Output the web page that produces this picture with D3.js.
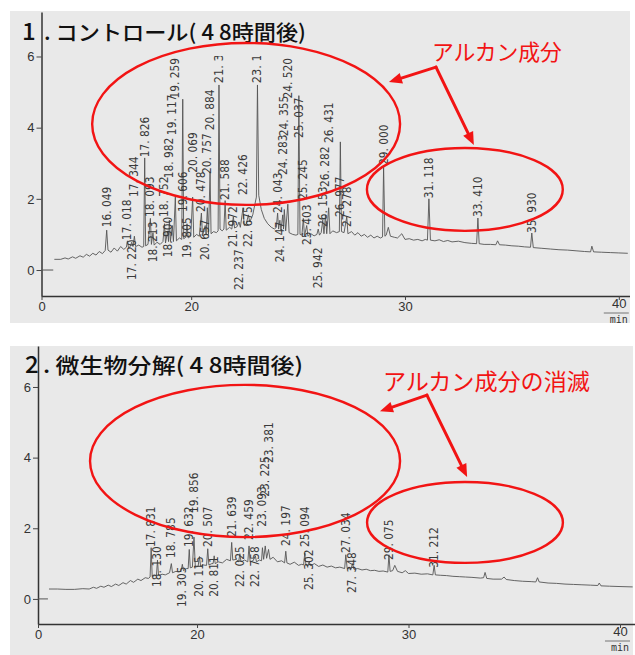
<!DOCTYPE html>
<html>
<head>
<meta charset="utf-8">
<script src="https://cdn.jsdelivr.net/npm/d3@7"></script>
<style>
  html, body { margin: 0; padding: 0; background: #fff; }
  svg { display: block; }
</style>
</head>
<body>
<svg id="chart" width="635" height="655"></svg>
<script>
// ---- shared axis values ----
const yTickValues = [0, 2, 4, 6];
const xTickValues = [20, 30, 40];
const originTickLabel = "0";
const unitLabel = "min";

// ---- 1. control run: detector trace [retention time (min), signal] ----
const topTrace = [
  [13.60,0.30],[13.90,0.30],[14.10,0.34],[14.25,0.31],[14.45,0.37],[14.60,0.33],[14.80,0.40],[14.95,0.36],
  [15.10,0.44],[15.25,0.39],[15.40,0.47],[15.55,0.42],[15.70,0.52],[15.85,0.46],[15.98,0.55],[16.049,1.12],
  [16.11,0.56],[16.25,0.50],[16.40,0.62],[16.55,0.53],[16.70,0.66],[16.85,0.58],[16.97,0.64],[17.018,0.82],
  [17.07,0.62],[17.15,0.66],[17.220,0.78],[17.28,0.66],[17.344,0.95],[17.40,0.66],[17.55,0.70],[17.70,0.64],
  [17.78,0.66],[17.826,3.15],[17.87,0.68],[17.98,0.72],[18.093,1.45],[18.14,0.72],[18.213,1.05],[18.27,0.70],
  [18.40,0.78],[18.55,0.72],[18.68,0.80],[18.752,1.30],[18.80,0.76],[18.900,1.10],[18.94,0.80],[18.982,1.40],
  [19.03,0.80],[19.117,1.25],[19.17,0.80],[19.259,2.05],[19.31,0.82],[19.45,0.90],[19.56,0.86],[19.606,4.80],
  [19.65,0.88],[19.75,0.92],[19.805,1.30],[19.86,0.90],[19.98,0.95],[20.069,2.05],[20.12,0.92],[20.25,1.00],
  [20.38,0.95],[20.478,1.60],[20.53,0.96],[20.657,1.25],[20.70,0.98],[20.757,1.75],[20.81,1.00],[20.884,2.75],
  [20.93,1.02],[21.05,1.08],[21.18,1.05],[21.26,1.10],[21.30,5.20],[21.35,1.15],[21.45,1.10],[21.53,1.15],
  [21.588,1.95],[21.64,1.12],[21.80,1.20],[21.90,1.15],[21.972,1.50],[22.03,1.18],[22.15,1.22],[22.237,1.35],
  [22.30,1.20],[22.426,1.75],[22.48,1.25],[22.58,1.30],[22.675,1.55],[22.74,1.35],[22.88,1.55],[22.98,1.85],
  [23.05,2.05],[23.10,5.20],[23.16,2.10],[23.28,1.70],[23.42,1.45],[23.58,1.30],[23.75,1.20],[23.90,1.15],
  [23.98,1.20],[24.043,1.60],[24.09,1.15],[24.147,1.40],[24.20,1.12],[24.283,1.55],[24.32,1.15],[24.355,1.70],
  [24.42,1.10],[24.520,1.85],[24.58,1.05],[24.75,1.00],[24.90,0.98],[24.99,1.00],[25.037,4.90],[25.09,1.00],
  [25.18,0.98],[25.245,1.45],[25.30,0.96],[25.403,1.25],[25.46,0.95],[25.60,1.02],[25.75,0.96],[25.88,1.00],
  [25.942,1.15],[26.00,0.98],[26.08,1.05],[26.153,1.40],[26.21,1.02],[26.282,1.55],[26.34,1.02],[26.431,1.75],
  [26.49,1.02],[26.62,1.10],[26.80,1.05],[26.93,1.08],[26.977,3.60],[27.03,1.08],[27.15,1.05],[27.278,1.50],
  [27.33,1.02],[27.50,1.08],[27.65,0.98],[27.80,1.05],[27.95,0.95],[28.10,1.00],[28.25,0.92],[28.40,0.98],
  [28.55,0.90],[28.70,0.95],[28.85,0.90],[28.95,0.93],[29.000,2.90],[29.06,0.95],[29.12,0.98],[29.22,1.20],
  [29.32,0.95],[29.50,0.92],[29.65,0.90],[29.85,1.02],[30.00,0.86],[30.20,0.88],[30.40,0.84],[30.60,0.86],
  [30.80,0.82],[30.95,0.86],[31.05,0.84],[31.118,2.00],[31.19,0.84],[31.40,0.82],[31.60,0.85],[31.80,0.80],
  [32.00,0.83],[32.20,0.79],[32.50,0.81],[32.80,0.77],[33.10,0.75],[33.35,0.74],[33.410,1.46],[33.47,0.74],
  [33.70,0.72],[34.00,0.72],[34.25,0.71],[34.33,0.82],[34.42,0.71],[34.70,0.70],[35.00,0.68],[35.30,0.67],
  [35.60,0.65],[35.87,0.64],[35.930,1.04],[36.00,0.63],[36.40,0.61],[36.80,0.59],[37.20,0.57],[37.60,0.56],
  [38.00,0.54],[38.40,0.52],[38.68,0.51],[38.74,0.67],[38.82,0.51],[39.20,0.50],[39.60,0.49],[40.00,0.48],
  [40.42,0.47]
];
const topZeroStub = [[13.0, 0], [13.55, 0]];

// printed retention-time labels: [text, retention time, signal level where the text begins]
const topLabels = [
  ["16. 049",16.049,1.20],["17. 018",17.018,0.84],["17. 220",17.220,-0.28],["17. 344",17.344,2.05],
  ["17. 826",17.826,3.17],["18. 093",18.093,1.49],["18. 213",18.213,0.22],["18. 752",18.752,1.49],
  ["18. 900",18.900,0.36],["18. 982",18.982,2.58],["19. 117",19.117,3.79],["19. 259",19.259,4.82],
  ["19. 606",19.606,1.63],["19. 805",19.805,0.34],["20. 069",20.069,2.73],["20. 478",20.478,1.63],
  ["20. 657",20.657,0.28],["20. 757",20.757,2.70],["20. 884",20.884,3.93],["21. 3",21.30,5.25],
  ["21. 588",21.588,1.97],["21. 972",21.972,0.65],["22. 237",22.237,-0.56],["22. 426",22.426,2.11],
  ["22. 675",22.675,0.65],["23. 1",23.10,5.25],["24. 043",24.043,1.60],["24. 147",24.147,0.22],
  ["24. 283",24.283,2.67],["24. 355",24.355,3.76],["24. 520",24.520,4.82],["25. 037",25.037,3.71],
  ["25. 245",25.245,1.97],["25. 403",25.403,0.70],["25. 942",25.942,-0.51],["26. 153",26.153,1.21],
  ["26. 282",26.282,2.33],["26. 431",26.431,3.57],["26. 977",26.977,1.49],["27. 278",27.278,1.21],
  ["29. 000",29.000,2.95],["31. 118",31.118,2.02],["33. 410",33.410,1.49],["35. 930",35.930,1.04]
];

// ---- 2. microbial degradation run ----
const bottomTrace = [
  [13.00,0.28],[13.40,0.28],[13.80,0.27],[14.20,0.27],[14.60,0.29],[14.90,0.28],[15.10,0.33],[15.25,0.30],
  [15.45,0.36],[15.60,0.33],[15.80,0.39],[15.95,0.35],[16.15,0.42],[16.30,0.38],[16.50,0.46],[16.65,0.42],
  [16.85,0.52],[17.00,0.47],[17.20,0.56],[17.35,0.52],[17.55,0.60],[17.70,0.58],[17.78,0.62],[17.831,1.45],
  [17.88,0.64],[18.00,0.66],[18.08,0.66],[18.130,1.10],[18.18,0.66],[18.35,0.70],[18.50,0.68],[18.70,0.74],
  [18.785,1.00],[18.84,0.74],[19.00,0.78],[19.15,0.76],[19.25,0.80],[19.305,0.98],[19.36,0.80],[19.50,0.86],
  [19.58,0.86],[19.632,1.40],[19.68,0.88],[19.78,0.90],[19.856,1.75],[19.92,0.90],[20.05,0.92],[20.115,1.20],
  [20.17,0.92],[20.30,0.96],[20.45,0.95],[20.507,1.42],[20.56,0.96],[20.70,1.00],[20.76,1.00],[20.811,1.22],
  [20.86,1.00],[21.00,1.05],[21.20,1.02],[21.40,1.12],[21.58,1.08],[21.639,1.60],[21.69,1.10],[21.85,1.12],
  [21.97,1.05],[22.025,1.28],[22.08,1.05],[22.25,1.10],[22.40,1.05],[22.459,1.50],[22.51,1.05],[22.65,1.08],
  [22.758,1.22],[22.81,1.05],[22.95,1.10],[23.05,1.08],[23.093,1.45],[23.15,1.12],[23.225,1.50],[23.29,1.15],
  [23.381,1.40],[23.45,1.12],[23.60,1.18],[23.80,1.05],[24.00,1.08],[24.14,1.02],[24.197,1.35],[24.25,1.02],
  [24.40,0.98],[24.60,1.04],[24.80,0.95],[24.95,0.98],[25.04,0.96],[25.094,1.30],[25.15,0.96],[25.25,0.95],
  [25.302,1.05],[25.36,0.94],[25.55,1.00],[25.75,0.92],[25.95,0.96],[26.15,0.90],[26.35,0.93],[26.55,0.88],
  [26.75,0.90],[26.98,0.86],[27.034,1.25],[27.10,0.86],[27.28,0.85],[27.348,1.00],[27.42,0.84],[27.60,0.86],
  [27.80,0.82],[28.00,0.84],[28.20,0.80],[28.40,0.81],[28.60,0.78],[28.80,0.79],[29.02,0.76],[29.075,1.25],
  [29.13,0.78],[29.25,0.80],[29.35,0.95],[29.48,0.78],[29.70,0.74],[29.85,0.80],[30.00,0.72],[30.30,0.73],
  [30.60,0.70],[30.90,0.71],[31.15,0.68],[31.212,0.95],[31.27,0.68],[31.50,0.67],[31.80,0.66],[32.10,0.64],
  [32.40,0.63],[32.70,0.62],[33.00,0.61],[33.40,0.59],[33.55,0.60],[33.62,0.75],[33.70,0.58],[34.00,0.56],
  [34.40,0.56],[34.52,0.62],[34.62,0.55],[35.00,0.52],[35.40,0.50],[35.80,0.49],[36.02,0.48],[36.10,0.60],
  [36.18,0.48],[36.60,0.45],[37.00,0.44],[37.40,0.42],[37.80,0.41],[38.20,0.40],[38.60,0.39],[38.95,0.38],
  [39.02,0.45],[39.10,0.37],[39.50,0.36],[40.00,0.35],[40.60,0.34]
];
const bottomZeroStub = [[12.48, 0], [12.95, 0]];

const bottomLabels = [
  ["17. 831",17.831,1.47],["18. 130",18.130,0.34],["18. 785",18.785,1.16],["19. 305",19.305,-0.23],
  ["19. 632",19.632,1.47],["19. 856",19.856,2.43],["20. 115",20.115,0.06],["20. 507",20.507,1.47],
  ["20. 811",20.811,0.06],["21. 639",21.639,1.75],["22. 025",22.025,0.34],["22. 459",22.459,1.67],
  ["22. 758",22.758,0.34],["23. 093",23.093,2.04],["23. 225",23.225,2.89],["23. 381",23.381,3.85],
  ["24. 197",24.197,1.50],["25. 094",25.094,1.47],["25. 302",25.302,0.25],["27. 034",27.034,1.30],
  ["27. 348",27.348,0.17],["29. 075",29.075,1.10],["31. 212",31.212,0.88]
];

// ---- hand-drawn red notes, in chart units [time, signal] ----
const topNoteText = "アルカン成分";
const topNoteAnchor = [31.26, 5.90];
const topNoteRings = [[15.37, 29.77, 1.83, 6.38], [28.22, 37.38, 1.10, 3.43]]; // t0, t1, v0, v1
const topNoteArrows = [[[31.45, 5.70], [29.25, 5.28]], [[31.45, 5.70], [33.22, 3.51]]];

const bottomNoteText = "アルカン成分の消滅";
const bottomNoteAnchor = [28.79, 5.92];
const bottomNoteRings = [[14.94, 29.60, 1.75, 6.06], [28.04, 37.30, 1.02, 3.31]];
const bottomNoteArrows = [[[30.87, 5.77], [28.65, 5.31]], [[30.87, 5.77], [32.77, 3.45]]];

// ---- panel layout ----
const panels = [
  {
    num: "1", title: ". コントロール( 4 8時間後)",
    trace: topTrace, stub: topZeroStub, labels: topLabels,
    noteText: topNoteText, noteAnchor: topNoteAnchor, noteRings: topNoteRings, noteArrows: topNoteArrows,
    noteSize: 22, noteLen: 130,
    box: [10, 11, 620, 312],
    xDomain: [13.0, 40.5], xRange: [41.5, 629.5],
    yDomain: [-0.73, 7.25], yRange: [296, 12],
    numX: 22, titleX: 44, titleY: 40, titleLen: 262,
    labelClipTop: 56
  },
  {
    num: "2", title: ". 微生物分解( 4 8時間後)",
    trace: bottomTrace, stub: bottomZeroStub, labels: bottomLabels,
    noteText: bottomNoteText, noteAnchor: bottomNoteAnchor, noteRings: bottomNoteRings, noteArrows: bottomNoteArrows,
    noteSize: 23, noteLen: 207,
    box: [10, 346, 623, 309],
    xDomain: [12.48, 40.7], xRange: [38, 634.8],
    yDomain: [-0.71, 7.16], yRange: [624, 346],
    numX: 25, titleX: 43, titleY: 373, titleLen: 260,
    labelClipTop: 346
  }
];

const svg = d3.select("#chart");
const RED = "#f21414";
const INK = "#3a3a3a";

panels.forEach((p, i) => {
  const g = svg.append("g");
  const [bx, by, bw, bh] = p.box;

  // scanned sheet
  g.append("rect").attr("x", bx).attr("y", by).attr("width", bw).attr("height", bh)
    .attr("fill", "#e9e9e9");

  const x = d3.scaleLinear().domain(p.xDomain).range(p.xRange);
  const y = d3.scaleLinear().domain(p.yDomain).range(p.yRange);
  const x0 = p.xDomain[0];
  const xLast = xTickValues[xTickValues.length - 1];

  // y axis
  const yAxis = g.append("g").attr("transform", `translate(${p.xRange[0]},0)`)
    .call(d3.axisLeft(y).tickValues(yTickValues).tickSize(5).tickSizeOuter(0).tickPadding(2)
      .tickFormat(d3.format("d")));
  // x axis
  const xAxis = g.append("g").attr("transform", `translate(0,${p.yRange[0]})`)
    .call(d3.axisBottom(x).tickValues([x0].concat(xTickValues)).tickSize(4).tickSizeOuter(0)
      .tickPadding(3).tickFormat(d => d === x0 ? originTickLabel : d3.format("d")(d)));
  [yAxis, xAxis].forEach(ax => {
    ax.select(".domain").attr("stroke", "#333").attr("stroke-width", 1.5);
    ax.selectAll(".tick line").attr("stroke", "#444").attr("stroke-width", 1);
    ax.selectAll(".tick text").attr("fill", "#333")
      .style("font-family", "'Liberation Sans', Arial, sans-serif").style("font-size", "13px");
  });
  xAxis.selectAll(".tick text").attr("dy", d => d === xLast ? "0.4em" : "0.6em");

  // unit under the last tick
  const x40 = x(xLast);
  g.append("line").attr("x1", x40 - 15).attr("x2", x40 + 10)
    .attr("y1", p.yRange[0] + 17).attr("y2", p.yRange[0] + 17)
    .attr("stroke", "#555").attr("stroke-width", 0.8);
  g.append("text").attr("x", x40).attr("y", p.yRange[0] + 27)
    .attr("text-anchor", "middle").attr("fill", "#333")
    .style("font-family", "'DejaVu Sans Mono', monospace").style("font-size", "10px")
    .text(unitLabel);

  // detector trace
  const line = d3.line().x(d => x(d[0])).y(d => y(d[1]));
  g.append("path").datum(p.stub).attr("d", line)
    .attr("fill", "none").attr("stroke", "#555").attr("stroke-width", 1);
  g.append("path").datum(p.trace).attr("d", line)
    .attr("fill", "none").attr("stroke", "#555").attr("stroke-width", 0.9)
    .attr("stroke-linejoin", "round");

  // retention-time labels printed vertically
  const clipId = "lab" + i;
  svg.append("clipPath").attr("id", clipId).append("rect")
    .attr("x", bx).attr("y", p.labelClipTop).attr("width", bw).attr("height", by + bh - p.labelClipTop);
  const lg = g.append("g").attr("clip-path", `url(#${clipId})`);
  lg.selectAll("text").data(p.labels).join("text")
    .attr("transform", d => `translate(${x(d[1]) + 4},${y(d[2])}) rotate(-90)`)
    .attr("fill", INK)
    .attr("textLength", d => d[0].length * 5.8)
    .attr("lengthAdjust", "spacingAndGlyphs")
    .style("font-family", "'DejaVu Sans', sans-serif").style("font-size", "12px")
    .text(d => d[0]);

  // title
  g.append("text").attr("x", p.numX).attr("y", p.titleY).attr("fill", "#111")
    .style("font-family", "'Noto Sans CJK JP', sans-serif").style("font-size", "24px")
    .style("font-weight", 500)
    .text(p.num);
  g.append("text").attr("x", p.titleX).attr("y", p.titleY).attr("fill", "#111")
    .attr("textLength", p.titleLen).attr("lengthAdjust", "spacingAndGlyphs")
    .style("font-family", "'Noto Sans CJK JP', sans-serif").style("font-size", "21px")
    .style("font-weight", 500)
    .text(p.title);

  // red notes
  const ng = g.append("g");
  p.noteRings.forEach(([t0, t1, v0, v1]) => {
    ng.append("ellipse")
      .attr("cx", (x(t0) + x(t1)) / 2).attr("cy", (y(v0) + y(v1)) / 2)
      .attr("rx", (x(t1) - x(t0)) / 2).attr("ry", (y(v0) - y(v1)) / 2)
      .attr("fill", "none").attr("stroke", RED).attr("stroke-width", 2.4);
  });
  p.noteArrows.forEach(([a, b]) => {
    const ax = x(a[0]), ay = y(a[1]), bx2 = x(b[0]), by2 = y(b[1]);
    const ang = Math.atan2(by2 - ay, bx2 - ax);
    const L = 13, W = 5.5;
    const sx = bx2 - L * Math.cos(ang), sy = by2 - L * Math.sin(ang);
    ng.append("line").attr("x1", ax).attr("y1", ay).attr("x2", sx).attr("y2", sy)
      .attr("stroke", RED).attr("stroke-width", 3).attr("stroke-linecap", "round");
    ng.append("path")
      .attr("d", `M${bx2},${by2}L${sx - W * Math.sin(ang)},${sy + W * Math.cos(ang)}L${sx + W * Math.sin(ang)},${sy - W * Math.cos(ang)}Z`)
      .attr("fill", RED);
  });
  ng.append("text").attr("x", x(p.noteAnchor[0])).attr("y", y(p.noteAnchor[1]))
    .attr("fill", RED).attr("textLength", p.noteLen).attr("lengthAdjust", "spacingAndGlyphs")
    .style("font-family", "'Noto Sans CJK JP', sans-serif").style("font-size", p.noteSize + "px")
    .text(p.noteText);
});
</script>
</body>
</html>
